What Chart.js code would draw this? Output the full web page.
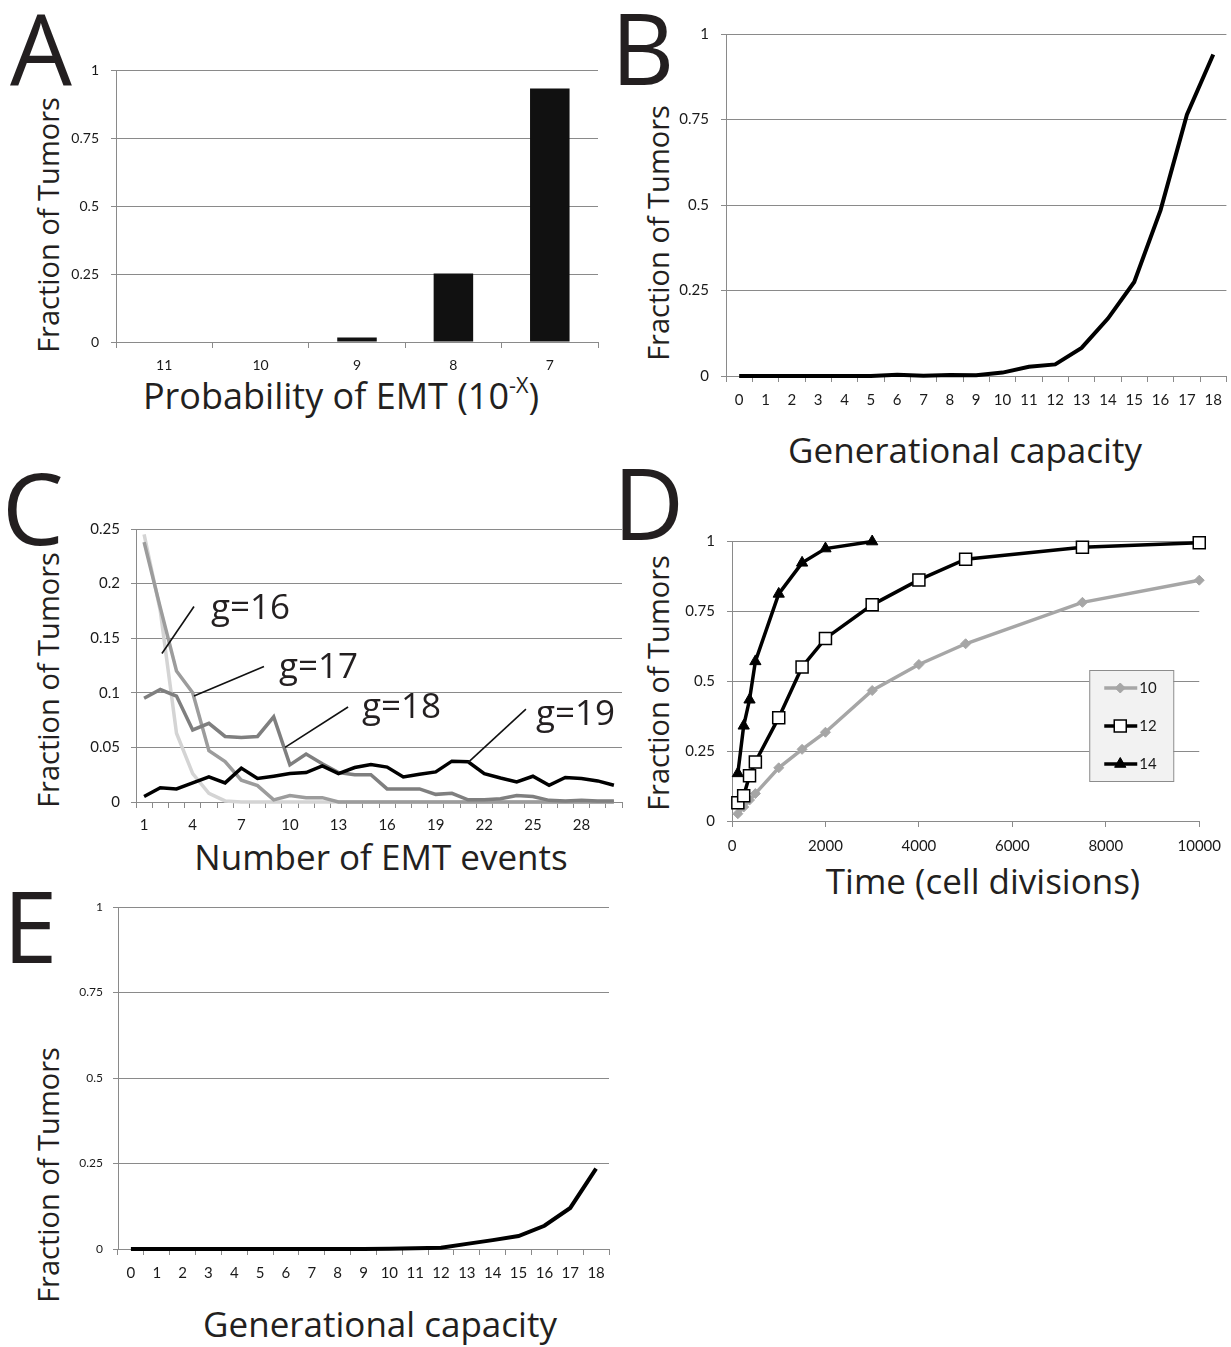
<!DOCTYPE html>
<html>
<head>
<meta charset="utf-8">
<script src="https://cdn.jsdelivr.net/npm/chart.js@4.4.1/dist/chart.umd.min.js"></script>
<style>
  body { margin: 0; width: 1231px; height: 1347px; position: relative; background: #fff; overflow: hidden; }
  canvas { position: absolute; }
  .t { position: absolute; white-space: nowrap; line-height: 1; color: #231f20; font-family: "Open Sans", sans-serif; }
  .letter { font-size: 98px; }
  .xt { font-size: 35px; transform: translateX(-50%); }
  .yt { font-size: 29px; transform: translate(-50%, -50%) rotate(-90deg); }
  sup { font-size: 60%; vertical-align: 0; position: relative; top: -0.75em; }
</style>
</head>
<body>

<div class="t letter" style="left:10px;top:-2px">A</div>
<div class="t letter" style="left:611px;top:-2px">B</div>
<div class="t letter" style="left:2px;top:458px">C</div>
<div class="t letter" style="left:613px;top:453px">D</div>
<div class="t letter" style="left:3px;top:876px">E</div>

<div class="t yt" style="left:47px;top:225px">Fraction of Tumors</div>
<div class="t yt" style="left:657px;top:233px">Fraction of Tumors</div>
<div class="t yt" style="left:47px;top:680px">Fraction of Tumors</div>
<div class="t yt" style="left:657px;top:683px">Fraction of Tumors</div>
<div class="t yt" style="left:47px;top:1175px">Fraction of Tumors</div>

<div class="t xt" style="left:341px;top:378px;font-size:36px">Probability of EMT (10<sup>-X</sup>)</div>
<div class="t xt" style="left:965px;top:432px">Generational capacity</div>
<div class="t xt" style="left:381px;top:839px">Number of EMT events</div>
<div class="t xt" style="left:983px;top:863px">Time (cell divisions)</div>
<div class="t xt" style="left:380px;top:1306px">Generational capacity</div>

<canvas id="chartA" width="560" height="340" style="left:60px;top:40px"></canvas>
<canvas id="chartB" width="571" height="410" style="left:660px;top:10px"></canvas>
<canvas id="chartC" width="566" height="340" style="left:60px;top:500px"></canvas>
<canvas id="chartD" width="571" height="345" style="left:660px;top:515px"></canvas>
<canvas id="chartE" width="555" height="400" style="left:60px;top:885px"></canvas>

<script>
// A: fraction of tumors by EMT probability
const emtExponents = ["11", "10", "9", "8", "7"];
const emtFraction = [0.002, 0, 0.017, 0.252, 0.932];

// B and E: fraction of tumors by generational capacity
const genCapacity = ["0", "1", "2", "3", "4", "5", "6", "7", "8", "9", "10", "11", "12", "13", "14", "15", "16", "17", "18"];
const genFractionB = [0, 0, 0, 0, 0, 0, 0.004, 0.001, 0.003, 0.002, 0.01, 0.027, 0.034, 0.082, 0.168, 0.275, 0.485, 0.764, 0.94];
const genFractionE = [0, 0, 0, 0, 0, 0, 0, 0, 0, 0, 0.001, 0.002, 0.004, 0.015, 0.026, 0.038, 0.068, 0.12, 0.235];

// C: distribution of the number of EMT events
const emtEvents = ["1", "2", "3", "4", "5", "6", "7", "8", "9", "10", "11", "12", "13", "14", "15",
                   "16", "17", "18", "19", "20", "21", "22", "23", "24", "25", "26", "27", "28", "29", "30"];
const g16 = [0.245, 0.175, 0.063, 0.026, 0.008, 0.001, 0, 0, 0, 0, 0, 0, 0, 0, 0,
             0, 0, 0, 0, 0, 0, 0, 0, 0, 0, 0, 0, 0, 0, 0];
const g17 = [0.238, 0.178, 0.12, 0.1, 0.047, 0.037, 0.02, 0.015, 0.002, 0.006, 0.004, 0.004, 0, 0, 0,
             0, 0, 0, 0, 0, 0, 0, 0, 0, 0, 0, 0, 0, 0, 0];
const g18 = [0.095, 0.103, 0.097, 0.066, 0.072, 0.06, 0.059, 0.06, 0.078, 0.034, 0.044, 0.035, 0.027, 0.025, 0.025,
             0.012, 0.012, 0.012, 0.007, 0.008, 0.002, 0.002, 0.003, 0.006, 0.005, 0.0015, 0.001, 0.0015, 0.001, 0.001];
const g19 = [0.005, 0.013, 0.012, 0.0175, 0.023, 0.0175, 0.031, 0.0215, 0.0236, 0.026, 0.027, 0.033, 0.026, 0.0316, 0.0344,
             0.032, 0.023, 0.0255, 0.0276, 0.0374, 0.0368, 0.026, 0.022, 0.0184, 0.0236, 0.0153, 0.0224, 0.0215, 0.0193, 0.0153];
const gLabels = ["g=16", "g=17", "g=18", "g=19"];
// leader line start, leader line end, text anchor (category index, value)
const gCallouts = [
  [1.10, 0.136, 3.08, 0.179, 4.13, 0.168],
  [3.08, 0.097, 7.40, 0.124, 8.33, 0.114],
  [8.70, 0.050, 12.59, 0.087, 13.45, 0.077],
  [19.99, 0.036, 23.57, 0.085, 24.19, 0.0705],
];

// D: fraction of tumors over time
const time10 = [125, 250, 375, 500, 1000, 1500, 2000, 3000, 4000, 5000, 7500, 10000];
const frac10 = [0.026, 0.05, 0.075, 0.098, 0.19, 0.256, 0.317, 0.466, 0.559, 0.633, 0.781, 0.86];
const time12 = [125, 250, 375, 500, 1000, 1500, 2000, 3000, 4000, 5000, 7500, 10000];
const frac12 = [0.065, 0.09, 0.162, 0.211, 0.369, 0.55, 0.652, 0.772, 0.861, 0.935, 0.978, 0.994];
const time14 = [125, 250, 375, 500, 1000, 1500, 2000, 3000];
const frac14 = [0.17, 0.34, 0.433, 0.57, 0.811, 0.922, 0.973, 0.998];
const seriesD = ["10", "12", "14"];

const GRID = "#8a8a8a";
const TICK = "#1a1a1a";

// plain numbers like Excel: 0.25, 0.5, 1
const plain = (v) => String(Number(Number(v).toFixed(4)));

function yAxis(max, step, width, size, padding) {
  return {
    min: 0,
    max: max,
    ticks: { stepSize: step, padding: padding, color: TICK, font: { family: "Lato", size: size }, callback: plain },
    grid: { color: GRID, lineWidth: 1, tickLength: 5 },
    border: { color: GRID, width: 1 },
    afterFit: (s) => { s.width = width; },
  };
}

function xCategory(height, size, padding) {
  return {
    offset: true,
    ticks: { padding: padding, color: TICK, autoSkip: false, maxRotation: 0, font: { family: "Lato", size: size } },
    grid: { offset: true, drawOnChartArea: false, color: GRID, tickLength: 6 },
    border: { color: GRID, width: 1 },
    afterFit: (s) => { s.height = height; },
  };
}

function baseOptions(padding) {
  return {
    responsive: false,
    animation: false,
    layout: { padding: padding },
    plugins: { legend: { display: false }, tooltip: { enabled: false } },
  };
}

// A
new Chart(document.getElementById("chartA"), {
  type: "bar",
  data: {
    labels: emtExponents,
    datasets: [{ data: emtFraction, backgroundColor: "#111111", barPercentage: 0.41, categoryPercentage: 1 }],
  },
  options: {
    ...baseOptions({ left: 0, top: 30, right: 22, bottom: 0 }),
    scales: { x: xCategory(38, 14, 9), y: yAxis(1, 0.25, 56, 14, 12) },
  },
});

// B
new Chart(document.getElementById("chartB"), {
  type: "line",
  data: {
    labels: genCapacity,
    datasets: [{ data: genFractionB, borderColor: "#000", borderWidth: 4, pointRadius: 0, tension: 0, clip: false }],
  },
  options: {
    ...baseOptions({ left: 0, top: 24, right: 2, bottom: 0 }),
    scales: { x: xCategory(44, 15, 9), y: yAxis(1, 0.25, 66, 15, 12) },
  },
});

// C
const calloutPlugin = {
  id: "callouts",
  afterDatasetsDraw(chart) {
    const { ctx } = chart;
    const x = chart.scales.x;
    const y = chart.scales.y;
    ctx.save();
    ctx.strokeStyle = "#111";
    ctx.lineWidth = 1.6;
    ctx.fillStyle = "#231f20";
    ctx.font = '35px "Open Sans"';
    ctx.textBaseline = "alphabetic";
    gCallouts.forEach((c, i) => {
      ctx.beginPath();
      ctx.moveTo(x.getPixelForValue(c[0]), y.getPixelForValue(c[1]));
      ctx.lineTo(x.getPixelForValue(c[2]), y.getPixelForValue(c[3]));
      ctx.stroke();
      ctx.fillText(gLabels[i], x.getPixelForValue(c[4]), y.getPixelForValue(c[5]));
    });
    ctx.restore();
  },
};

const xC = xCategory(38, 15, 8);
xC.ticks.callback = function (val, index) {
  return index % 3 === 0 ? this.getLabelForValue(val) : "";
};

new Chart(document.getElementById("chartC"), {
  type: "line",
  data: {
    labels: emtEvents,
    datasets: [
      { label: "g=16", data: g16, borderColor: "#d4d4d4", borderWidth: 3.5, pointRadius: 0, order: 4, clip: false },
      { label: "g=17", data: g17, borderColor: "#9c9c9c", borderWidth: 3.5, pointRadius: 0, order: 3, clip: false },
      { label: "g=18", data: g18, borderColor: "#7f7f7f", borderWidth: 3.5, pointRadius: 0, order: 2, clip: false },
      { label: "g=19", data: g19, borderColor: "#000", borderWidth: 3.5, pointRadius: 0, order: 1, clip: false },
    ],
  },
  options: {
    ...baseOptions({ left: 0, top: 29, right: 4, bottom: 0 }),
    scales: { x: xC, y: yAxis(0.25, 0.05, 76, 15, 11) },
  },
  plugins: [calloutPlugin],
});

// D
const boxLegend = {
  id: "boxLegend",
  afterDraw(chart) {
    const { ctx, chartArea } = chart;
    const bx = chartArea.right - 110;
    const by = chartArea.top + 129;
    ctx.save();
    ctx.fillStyle = "#f2f2f2";
    ctx.fillRect(bx, by, 84, 111);
    ctx.strokeStyle = "#8c8c8c";
    ctx.lineWidth = 1;
    ctx.strokeRect(bx + 0.5, by + 0.5, 84, 111);
    chart.data.datasets.forEach((ds, i) => {
      const cy = by + 18 + i * 38;
      ctx.strokeStyle = ds.borderColor;
      ctx.lineWidth = ds.borderWidth;
      ctx.beginPath();
      ctx.moveTo(bx + 15, cy);
      ctx.lineTo(bx + 48, cy);
      ctx.stroke();
      ctx.fillStyle = ds.pointBackgroundColor;
      ctx.strokeStyle = ds.pointBorderColor;
      ctx.lineWidth = ds.pointBorderWidth;
      Chart.helpers.drawPoint(ctx, { pointStyle: ds.pointStyle, radius: ds.pointRadius, rotation: 0, borderWidth: ds.pointBorderWidth }, bx + 31, cy);
      ctx.fillStyle = TICK;
      ctx.font = "15px Lato";
      ctx.textBaseline = "middle";
      ctx.textAlign = "left";
      ctx.fillText(ds.label, bx + 50, cy);
    });
    ctx.restore();
  },
};

function points(xs, ys) {
  return xs.map((v, i) => ({ x: v, y: ys[i] }));
}

new Chart(document.getElementById("chartD"), {
  type: "line",
  data: {
    datasets: [
      { label: seriesD[0], data: points(time10, frac10), borderColor: "#a6a6a6", borderWidth: 3.5, clip: false,
        pointStyle: "rectRot", pointRadius: 5, pointBackgroundColor: "#a6a6a6", pointBorderColor: "#a6a6a6", pointBorderWidth: 1, order: 3 },
      { label: seriesD[1], data: points(time12, frac12), borderColor: "#000", borderWidth: 3.5, clip: false,
        pointStyle: "rect", pointRadius: 8.5, pointBackgroundColor: "#fff", pointBorderColor: "#000", pointBorderWidth: 1.5, order: 2 },
      { label: seriesD[2], data: points(time14, frac14), borderColor: "#000", borderWidth: 3.5, clip: false,
        pointStyle: "triangle", pointRadius: 6.5, pointBackgroundColor: "#000", pointBorderColor: "#000", pointBorderWidth: 1, order: 1 },
    ],
  },
  options: {
    ...baseOptions({ left: 0, top: 26, right: 25, bottom: 0 }),
    scales: {
      x: {
        type: "linear",
        min: 0,
        max: 10000,
        ticks: { stepSize: 2000, padding: 10, color: TICK, font: { family: "Lato", size: 15 }, callback: (v) => String(v) },
        grid: { drawOnChartArea: false, color: GRID, tickLength: 6 },
        border: { color: GRID, width: 1 },
        afterFit: (s) => { s.height = 39; },
      },
      y: yAxis(1, 0.25, 72, 15, 12),
    },
  },
  plugins: [boxLegend],
});

// E
new Chart(document.getElementById("chartE"), {
  type: "line",
  data: {
    labels: genCapacity,
    datasets: [{ data: genFractionE, borderColor: "#000", borderWidth: 4, pointRadius: 0, tension: 0, clip: false }],
  },
  options: {
    ...baseOptions({ left: 0, top: 22, right: 6, bottom: 0 }),
    scales: { x: xCategory(36, 15, 9), y: yAxis(1, 0.25, 58, 12, 10) },
  },
});
</script>
</body>
</html>
